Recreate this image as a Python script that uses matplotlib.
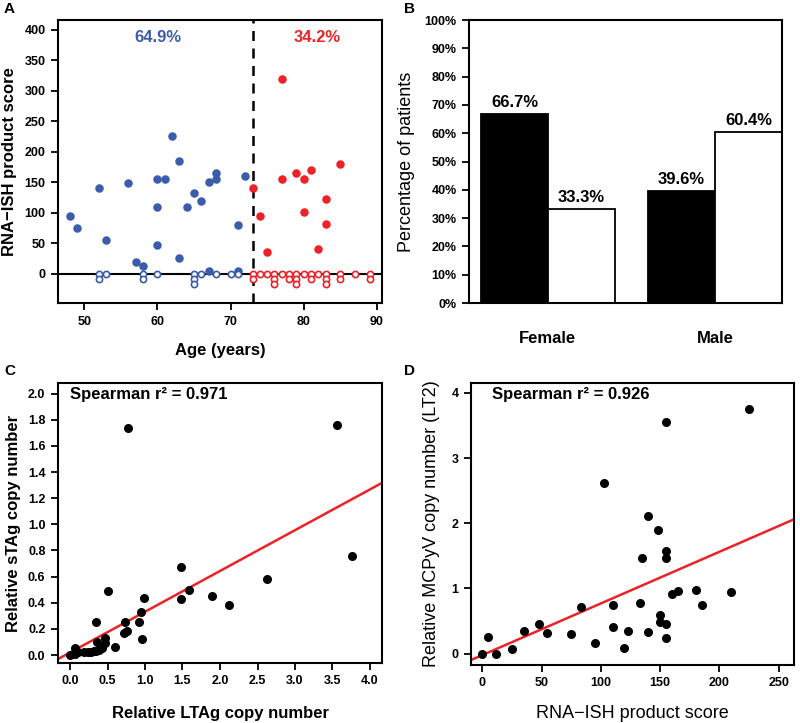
import numpy as np
import matplotlib
matplotlib.use('Agg')
import matplotlib.pyplot as plt

plt.rcParams['font.family'] = ['Liberation Sans', 'DejaVu Sans']

BLUE = '#3b5bab'
RED = '#ec2227'

# A: RNA-ISH score vs age
blue_age = [48, 49, 52, 53, 56, 57, 58, 60, 60, 60, 61, 62, 63, 63, 64, 65, 66, 67, 67, 68, 68, 71, 71, 72]
blue_score = [95, 75, 140, 55, 148, 20, 13, 155, 110, 47, 155, 225, 185, 25, 110, 133, 120, 150, 5, 165, 155, 80, 5, 160]
blue_zero_age = [52, 52, 53, 58, 58, 60, 65, 65, 65, 66, 68, 70, 71]
red_age = [73, 74, 75, 77, 77, 79, 80, 80, 81, 82, 83, 83, 85]
red_score = [140, 95, 35, 320, 155, 165, 155, 102, 170, 40, 123, 82, 180]
red_zero_age = [73, 73, 74, 75, 76, 76, 76, 77, 78, 78, 79, 79, 79, 80, 81, 81, 82, 83, 83, 83,
                85, 85, 87, 89, 89]
age_cutoff = 73
pct_young = '64.9%'
pct_old = '34.2%'

# B: percentage of patients by sex
sexes = ['Female', 'Male']
pct_pos = [66.7, 39.6]
pct_neg = [33.3, 60.4]

# C: sTAg vs LTAg copy number
ltag = [0.77, 3.56, 3.76, 1.48, 2.62, 1.59, 1.48, 1.89, 2.12, 0.50, 0.98, 0.95, 0.92, 0.96,
        0.74, 0.72, 0.76, 0.34, 0.60, 0.47, 0.46, 0.36, 0.41, 0.38, 0.32, 0.28, 0.24, 0.18,
        0.11, 0.07, 0.06, 0.00, 0.35, 0.43]
stag = [1.74, 1.76, 0.76, 0.67, 0.58, 0.50, 0.43, 0.45, 0.38, 0.49, 0.44, 0.33, 0.25, 0.12,
        0.25, 0.17, 0.18, 0.25, 0.06, 0.13, 0.09, 0.10, 0.07, 0.04, 0.03, 0.02, 0.02, 0.02,
        0.02, 0.05, 0.01, 0.00, 0.03, 0.05]
fit_c = (0.019, 0.312)
rho_c = '0.971'

# D: MCPyV copy number vs RNA-ISH score
ish = [225, 155, 103, 140, 148, 155, 155, 135, 180, 210, 165, 160, 185, 83, 110, 133, 150,
       150, 155, 110, 123, 140, 155, 120, 95, 75, 55, 48, 35, 25, 12, 5, 0]
lt2 = [3.76, 3.55, 2.62, 2.11, 1.89, 1.58, 1.47, 1.47, 0.98, 0.95, 0.96, 0.91, 0.74, 0.72,
       0.75, 0.77, 0.59, 0.49, 0.46, 0.41, 0.34, 0.33, 0.24, 0.08, 0.17, 0.30, 0.32, 0.46,
       0.35, 0.07, 0.00, 0.26, 0.00]
fit_d = (-0.022, 0.00792)
rho_d = '0.926'


def style_axes(ax):
    for s in ax.spines.values():
        s.set_linewidth(1.5)
    ax.tick_params(direction='out', length=5, width=1.3, pad=4, labelsize=9)
    for lab in ax.get_xticklabels() + ax.get_yticklabels():
        lab.set_fontweight('bold')


def stack_zero(ages, step=8.7):
    # stack repeated zero scores downwards, like a stripchart
    seen = {}
    ys = []
    for a in ages:
        k = seen.get(a, 0)
        ys.append(-step * k)
        seen[a] = k + 1
    return ys


fig = plt.figure(figsize=(8, 7.23), dpi=100)
W, H = 800, 723


def add_ax(l, r, t, b):
    return fig.add_axes([l / W, 1 - b / H, (r - l) / W, (b - t) / H])


# ---- A
ax = add_ax(58, 382, 20, 303)
ax.axhline(0, color='black', lw=1.5, zorder=1)
ax.scatter(blue_age, blue_score, s=26, color=BLUE, zorder=3)
ax.scatter(blue_zero_age, stack_zero(blue_zero_age), s=20, facecolor='white',
           edgecolor=BLUE, linewidth=1.2, zorder=3)
ax.scatter(red_age, red_score, s=26, color=RED, zorder=3)
ax.scatter(red_zero_age, stack_zero(red_zero_age), s=20, facecolor='white',
           edgecolor=RED, linewidth=1.2, zorder=3)
ax.axvline(age_cutoff, color='black', lw=1.8, ls=(0, (4, 3)), zorder=2)
ax.text(60.1, 388, pct_young, color=BLUE, fontsize=12, fontweight='bold', ha='center', va='center')
ax.text(81.8, 388, pct_old, color=RED, fontsize=12, fontweight='bold', ha='center', va='center')
ax.set_xlim(46.4, 90.7)
ax.set_ylim(-48, 416)
ax.set_xticks(np.arange(50, 91, 10))
ax.set_yticks(np.arange(0, 401, 50))
ax.set_xlabel('Age (years)', fontsize=12, fontweight='bold', labelpad=11.5)
ax.set_ylabel('RNA\u2212ISH product score', fontsize=12, fontweight='bold', labelpad=5)
style_axes(ax)

# ---- B
ax = add_ax(469, 782, 20, 303)
x = np.array([0, 2.5])
ax.bar(x, pct_pos, width=1, color='black', edgecolor='black', linewidth=1.3)
ax.bar(x + 1, pct_neg, width=1, color='white', edgecolor='black', linewidth=1.3)
for xi, v in zip(list(x) + list(x + 1), pct_pos + pct_neg):
    ax.annotate('%.1f%%' % v, (xi, v), xytext=(0, 3), textcoords='offset points',
                ha='center', va='bottom', fontsize=12, fontweight='bold')
ax.set_xlim(-0.68, 4.0)
ax.set_ylim(0, 100)
ax.set_yticks(np.arange(0, 101, 10))
ax.set_yticklabels(['%d%%' % v for v in range(0, 101, 10)])
ax.set_xticks(x + 0.5)
ax.set_xticklabels(sexes)
ax.set_ylabel('Percentage of patients', fontsize=13, labelpad=7)
style_axes(ax)
ax.tick_params(axis='x', length=0, pad=20, labelsize=12)

# ---- C
ax = add_ax(58, 382, 383, 663)
ax.scatter(ltag, stag, s=30, color='black', zorder=3)
ax.axline((0, fit_c[0]), slope=fit_c[1], color=RED, lw=1.8, zorder=2)
ax.text(0.0, 1.99, 'Spearman r\u00b2 = ' + rho_c, fontsize=12, fontweight='bold', va='center')
ax.set_xlim(-0.16, 4.16)
ax.set_ylim(-0.061, 2.081)
ax.set_xticks(np.arange(0, 4.01, 0.5))
ax.set_yticks(np.arange(0, 2.01, 0.2))
ax.xaxis.set_major_formatter(plt.FormatStrFormatter('%.1f'))
ax.yaxis.set_major_formatter(plt.FormatStrFormatter('%.1f'))
ax.set_xlabel('Relative LTAg copy number', fontsize=12, fontweight='bold', labelpad=13)
ax.set_ylabel('Relative sTAg copy number', fontsize=12, fontweight='bold', labelpad=5)
style_axes(ax)

# ---- D
ax = add_ax(471, 794, 383, 665)
ax.scatter(ish, lt2, s=30, color='black', zorder=3)
ax.axline((0, fit_d[0]), slope=fit_d[1], color=RED, lw=1.8, zorder=2)
ax.text(8, 3.98, 'Spearman r\u00b2 = ' + rho_d, fontsize=12, fontweight='bold', va='center')
ax.set_xlim(-9.5, 263)
ax.set_ylim(-0.174, 4.152)
ax.set_xticks(np.arange(0, 251, 50))
ax.set_yticks(np.arange(0, 5, 1))
ax.set_xlabel('RNA\u2212ISH product score', fontsize=13, labelpad=11)
ax.set_ylabel('Relative MCPyV copy number (LT2)', fontsize=13, labelpad=8)
style_axes(ax)

for lab, (px, py) in zip('ABCD', [(4, 2), (404, 2), (4, 364), (404, 364)]):
    fig.text(px / W, 1 - py / H, lab, fontsize=11, fontweight='bold', va='top', ha='left')

fig.savefig('out.png', dpi=100)
